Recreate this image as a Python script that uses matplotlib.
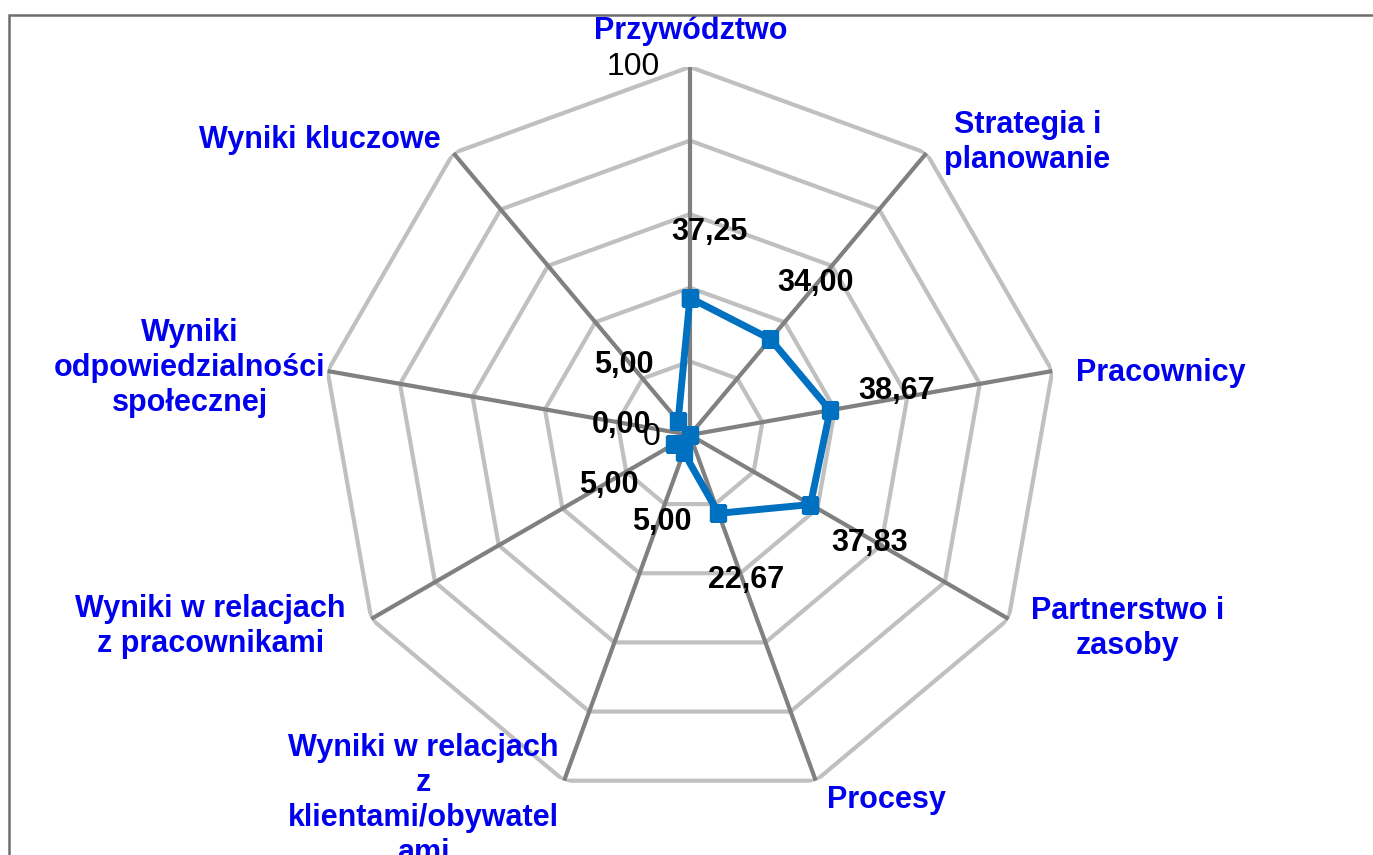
import numpy as np
import matplotlib
matplotlib.use('Agg')
import matplotlib.pyplot as plt
from matplotlib.patches import Rectangle

plt.rcParams['font.family'] = ['Liberation Sans', 'DejaVu Sans']

# Chart data
categories = ['Przywództwo', 'Strategia i\nplanowanie', 'Pracownicy', 'Partnerstwo i\nzasoby',
              'Procesy', 'Wyniki w relacjach\nz\nklientami/obywatel\nami',
              'Wyniki w relacjach\nz pracownikami', 'Wyniki\nodpowiedzialności\nspołecznej',
              'Wyniki kluczowe']
values = [37.25, 34.00, 38.67, 37.83, 22.67, 5.00, 5.00, 0.00, 5.00]
value_labels = ['37,25', '34,00', '38,67', '37,83', '22,67', '5,00', '5,00', '0,00', '5,00']
grid_levels = [20, 40, 60, 80, 100]
tick_labels = ['0', '100']

# label offsets in pixels (x right, y up)
value_offsets = [(20, 66), (45, 56), (67, 19), (59, -38), (28, -67),
                 (-22, -70), (-65, -41), (-68, 10), (-54, 56)]
cat_offsets = [(1, 36), (101, 11), (24, -2), (119, -10), (71, -19),
               (-141, -20), (-161, -8), (-138, 3), (-134, 13)]
cat_ha = ['center', 'center', 'left', 'center', 'center', 'center', 'center', 'center', 'center']

blue_text = '#0000ee'
n = len(categories)
angles = np.arange(n) * 2 * np.pi / n

fig = plt.figure(figsize=(13.73, 8.55), dpi=100)
ax = fig.add_axes([0.2345, 0.0608, 0.536, 0.861], projection='polar')
ax.set_theta_offset(np.pi / 2)
ax.set_theta_direction(-1)
ax.set_ylim(0, 100)
ax.grid(False)
ax.spines['polar'].set_visible(False)
ax.set_xticks([])
ax.set_yticks([])
ax.patch.set_visible(False)

closed = np.append(angles, angles[0])

# polygon gridlines
for lvl in grid_levels:
    ax.plot(closed, [lvl] * (n + 1), color='#c0c0c0', lw=3, zorder=1, solid_joinstyle='miter')

# spokes
for a in angles:
    ax.plot([a, a], [0, 100], color='#808080', lw=3, zorder=2)

# data series
ax.plot(closed, values + values[:1], color='#0070c0', lw=5, marker='s', markersize=11,
        zorder=4, solid_joinstyle='miter')

# value labels
for a, v, txt, off in zip(angles, values, value_labels, value_offsets):
    ax.annotate(txt, xy=(a, v), xytext=off, textcoords='offset pixels',
                ha='center', va='center', fontsize=22, fontweight='bold', color='black', zorder=5)

# category labels
for a, cat, off, ha in zip(angles, categories, cat_offsets, cat_ha):
    ax.annotate(cat, xy=(a, 100), xytext=off, textcoords='offset pixels',
                ha=ha, va='center', multialignment='center', fontsize=22,
                fontweight='bold', color=blue_text, linespacing=1.22, annotation_clip=False)

# radial axis labels
ax.annotate(tick_labels[1], xy=(0, 100), xytext=(-30, 0), textcoords='offset pixels',
            ha='right', va='center', fontsize=23, color='black')
ax.annotate(tick_labels[0], xy=(0, 0), xytext=(-38, -2), textcoords='offset pixels',
            ha='center', va='center', fontsize=23, color='black', zorder=6)

# chart area border (top and left visible)
fig.patches.append(Rectangle((9 / 1373, -0.1), 1.1, 1.1 - 15 / 855, transform=fig.transFigure,
                             fill=False, edgecolor='#6e6e6e', lw=1.8))

fig.savefig('out.png', dpi=100)
